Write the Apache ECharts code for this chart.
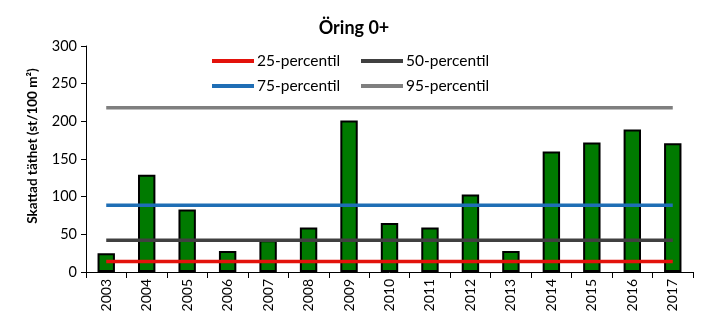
<!DOCTYPE html>
<html>
<head>
<meta charset="utf-8">
<script src="https://cdn.jsdelivr.net/npm/echarts@6/dist/echarts.min.js"></script>
<style>
  html, body { margin: 0; padding: 0; background: #fff; }
  #chart { width: 708px; height: 325px; }
</style>
</head>
<body>
<div id="chart"></div>
<script>
// Estimated trout fry density per year (st/100 m²)
const years = ['2003', '2004', '2005', '2006', '2007', '2008', '2009', '2010',
               '2011', '2012', '2013', '2014', '2015', '2016', '2017'];
const density = [25, 129, 83, 28, 42, 59, 201, 65, 59, 103, 28, 160, 172, 189, 171];

// Reference percentile levels
const percentileNames = ['25-percentil', '50-percentil', '75-percentil', '95-percentil'];
const percentileValues = [14, 42, 88.5, 218];
const percentileColors = ['#E3120B', '#404040', '#1F6EB5', '#7F7F7F'];

const yTicks = { min: 0, max: 300, interval: 50 };

const font = 'Lato, "Open Sans", sans-serif';

const lineSeries = percentileNames.map((name, i) => ({
  name: name,
  type: 'line',
  data: years.map(() => percentileValues[i]),
  symbol: 'none',
  z: 5,
  lineStyle: { color: percentileColors[i], width: 3.5 },
  itemStyle: { color: percentileColors[i] },
  emphasis: { disabled: true }
}));

const legendCommon = {
  orient: 'vertical',
  top: 48,
  itemWidth: 42,
  itemHeight: 4,
  itemGap: 9,
  icon: 'rect',
  textStyle: { fontFamily: font, fontSize: 15.5, color: '#000', padding: [0, 0, 0, -2] }
};

const chart = echarts.init(document.getElementById('chart'));
chart.setOption({
  animation: false,
  backgroundColor: '#fff',
  title: {
    text: 'Öring 0+',
    left: 'center',
    top: 14,
    textStyle: { fontFamily: font, fontSize: 18, fontWeight: 'bold', color: '#000' }
  },
  legend: [
    Object.assign({}, legendCommon, { left: 207, data: [percentileNames[0], percentileNames[2]] }),
    Object.assign({}, legendCommon, { left: 356, data: [percentileNames[1], percentileNames[3]] })
  ],
  graphic: [{
    type: 'text',
    x: 33,
    y: 146,
    rotation: Math.PI / 2,
    style: {
      text: 'Skattad täthet (st/100 m²)',
      fontFamily: font,
      fontSize: 13.5,
      fontWeight: 'bold',
      fill: '#000',
      align: 'center',
      verticalAlign: 'middle'
    }
  }],
  grid: { left: 86, right: 15, top: 46, bottom: 53 },
  xAxis: {
    type: 'category',
    data: years,
    axisLine: { lineStyle: { color: '#000', width: 1 } },
    axisTick: { show: true, length: 6, lineStyle: { color: '#000' } },
    axisLabel: { rotate: 90, fontFamily: font, fontSize: 14, color: '#000', margin: 7 }
  },
  yAxis: {
    type: 'value',
    min: yTicks.min,
    max: yTicks.max,
    interval: yTicks.interval,
    axisLine: { show: true, lineStyle: { color: '#000', width: 1 } },
    axisTick: { show: true, length: 5, lineStyle: { color: '#000' } },
    splitLine: { show: false },
    axisLabel: { fontFamily: font, fontSize: 14.5, color: '#000', margin: 9 }
  },
  series: [
    {
      name: 'Täthet',
      type: 'bar',
      data: density,
      barWidth: '43%',
      z: 2,
      itemStyle: { color: '#007A00', borderColor: '#000', borderWidth: 2 },
      emphasis: { disabled: true }
    }
  ].concat(lineSeries)
});
</script>
</body>
</html>
